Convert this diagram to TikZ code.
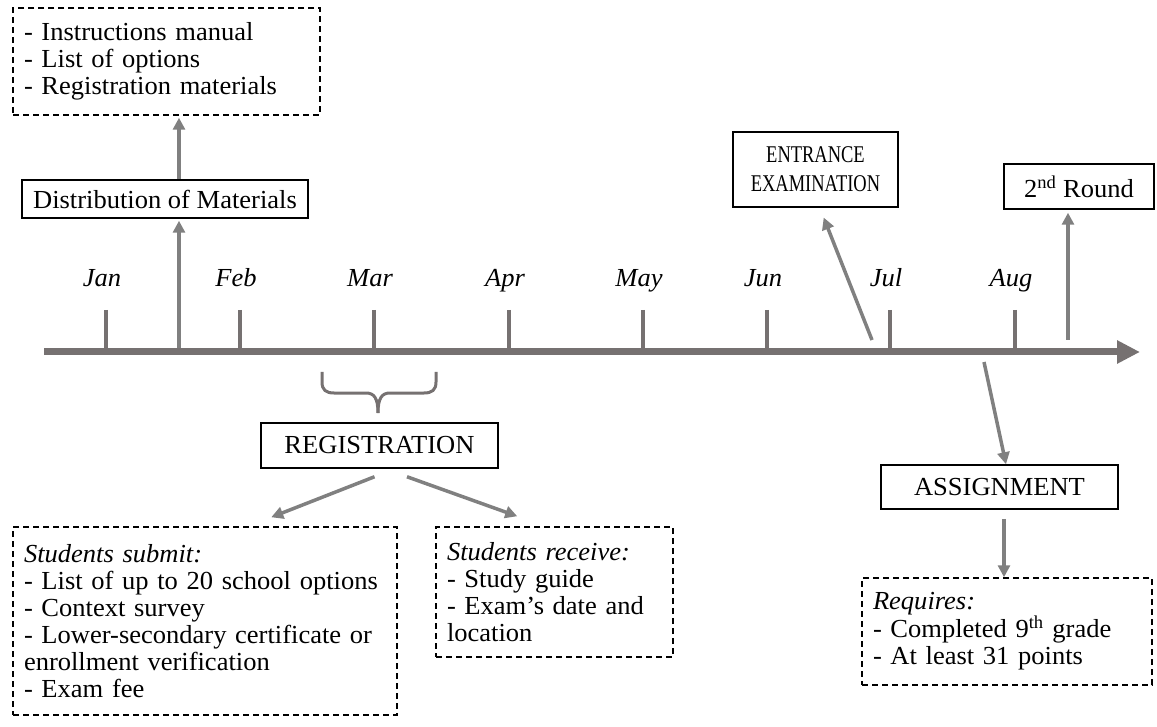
\documentclass[tikz,border=0pt]{standalone}
\usepackage{fontspec}
\setmainfont{Liberation Serif}[FakeStretch=1.02]
\newfontfamily\narrowfont{Liberation Serif}[FakeStretch=0.77]
\usepackage{tikz}
\definecolor{gray600}{HTML}{767171}
\definecolor{gray500}{HTML}{808080}
\usetikzlibrary{arrows.meta}
\newcommand{\boxfont}{\fontsize{26}{27}\selectfont}
\tikzstyle{plainbox}=[draw=black, line width=1.5pt, inner sep=0pt, align=center]
\tikzstyle{listbox}=[draw=black, line width=1.5pt, dash pattern=on 6pt off 4pt, inner xsep=11pt, inner ysep=0pt, align=left]
\tikzstyle{month}=[font=\boxfont\itshape, anchor=base]
\tikzstyle{tick}=[draw=gray600, line width=4pt]
\tikzstyle{conn}=[draw=gray500, line width=3.5pt, -{Triangle[length=12pt,width=12pt]}]

\begin{document}
\begin{tikzpicture}[x=1pt, y=-1pt, font=\boxfont]
\useasboundingbox (0,0) rectangle (1157,727);
% timeline
\coordinate (tstart) at (44,352);
\coordinate (tend) at (1140,352);
\draw[gray600, line width=7pt, -{Triangle[length=23pt,width=22pt]}] (tstart) -- (tend);
\foreach \m/\x in {Jan/106, Feb/240, Mar/374, Apr/509, May/643, Jun/767, Jul/890, Aug/1015} {
  \draw[tick] (\x,310) -- (\x,352);
  \node[month] (\m) at (\x-4,287) {\m};
}
% boxes
\node[listbox, text width=285pt, minimum height=107pt] (mats) at (166.5,61.5) {- Instructions manual\\- List of options\\- Registration materials};
\node[plainbox, minimum width=286pt, minimum height=38pt] (dist) at (165,199) {Distribution of Materials};
\node[plainbox, minimum width=237pt, minimum height=45pt] (reg) at (379.5,445.5) {REGISTRATION};
\node[plainbox, line width=2.5pt, minimum width=165pt, minimum height=75pt, font={\fontsize{24}{29}\selectfont\narrowfont}] (exam) at (815.5,169.5) {ENTRANCE\\EXAMINATION};
\node[plainbox, minimum width=150pt, minimum height=45pt] (round) at (1079,186.5) {2\textsuperscript{nd} Round};
\node[plainbox, minimum width=237pt, minimum height=44pt] (assign) at (999.5,487) {ASSIGNMENT};
\node[listbox, text width=362pt, minimum height=188pt] (submit) at (205,621) {\textit{Students submit:}\\- List of up to 20 school options\\- Context survey\\\makebox[362pt][s]{- Lower-secondary certificate or}\\enrollment verification\\- Exam fee};
\node[listbox, text width=215pt, minimum height=130pt] (recv) at (554.5,592) {\textit{Students receive:}\\- Study guide\\- Exam’s date and\\location};
\node[listbox, text width=268pt, minimum height=107pt] (req) at (1007,631.5) {\textit{Requires:}\\- Completed 9\textsuperscript{th} grade\\- At least 31 points};
% brace under March
\draw[gray600, line width=3pt] (322,372) -- (322,382) .. controls (322,390) and (326,393) .. (334,393) -- (366,393) .. controls (374,393) and (378,398) .. (378,413);
\draw[gray600, line width=3pt] (436,372) -- (436,382) .. controls (436,390) and (432,393) .. (424,393) -- (390,393) .. controls (382,393) and (378,398) .. (378,413);
% connectors
\coordinate (d0) at (179,348);
\draw[conn, shorten >=2pt] (d0) -- (d0 |- dist.south);
\draw[conn, shorten >=2pt] (d0 |- dist.north) -- (d0 |- mats.south);
\coordinate (e0) at (872,340);
\draw[conn, shorten >=10pt] (e0) -- ([xshift=4.5pt]exam.south);
\coordinate (r0) at (1068,340);
\draw[conn, shorten >=3pt] (r0) -- (r0 |- round.south);
\coordinate (a0) at (984,362);
\draw[conn] (a0) -- ([xshift=6.5pt]assign.north);
\coordinate (a1) at ([xshift=4.5pt]assign.south);
\draw[conn, shorten <=9pt] (a1) -- (a1 |- req.north);
\draw[conn] ([shift={(-5,8)}]reg.south) -- ([shift={(259,-9)}]submit.north west);
\draw[conn] ([shift={(27.5,8)}]reg.south) -- ([shift={(82,-10)}]recv.north west);
\end{tikzpicture}
\end{document}
